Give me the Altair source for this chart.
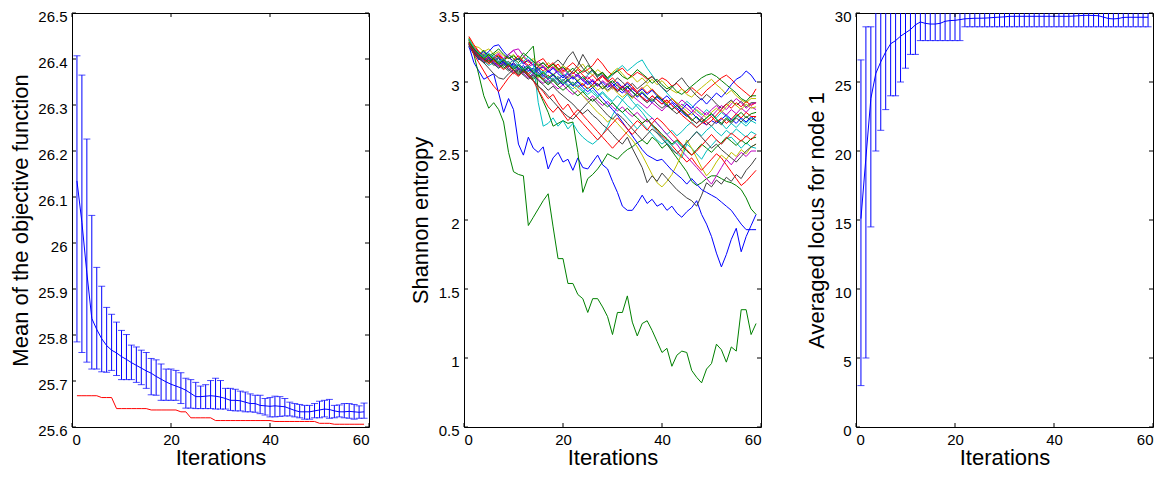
import altair as alt
import pandas as pd

ITER = list(range(1, 60))
X_TICKS = [0, 20, 40, 60]
OBJ_TICKS = [25.6, 25.7, 25.8, 25.9, 26.0, 26.1, 26.2, 26.3, 26.4, 26.5]
ENT_TICKS = [0.5, 1, 1.5, 2, 2.5, 3, 3.5]
LOC_TICKS = [0, 5, 10, 15, 20, 25, 30]

# ---------------- left panel: objective function ----------------
OBJ_MEAN = [26.135, 26.045, 25.935, 25.836, 25.812, 25.792, 25.777, 25.767, 25.761, 25.753,
            25.747, 25.740, 25.734, 25.728, 25.722, 25.717, 25.710, 25.704, 25.698, 25.693,
            25.689, 25.685, 25.680, 25.673, 25.666, 25.666, 25.667, 25.668, 25.667, 25.665,
            25.662, 25.658, 25.658, 25.657, 25.654, 25.651, 25.651, 25.647, 25.646, 25.645,
            25.646, 25.645, 25.644, 25.640, 25.636, 25.633, 25.633, 25.633, 25.635, 25.637,
            25.639, 25.638, 25.635, 25.633, 25.633, 25.634, 25.633, 25.632, 25.633]
OBJ_HI = [26.407, 26.365, 26.226, 26.060, 25.947, 25.906, 25.860, 25.845, 25.828, 25.810,
          25.801, 25.778, 25.774, 25.767, 25.762, 25.749, 25.746, 25.737, 25.726, 25.726,
          25.723, 25.718, 25.706, 25.703, 25.697, 25.689, 25.692, 25.701, 25.706, 25.701,
          25.684, 25.684, 25.682, 25.678, 25.676, 25.672, 25.669, 25.669, 25.662, 25.664,
          25.667, 25.666, 25.662, 25.654, 25.651, 25.649, 25.647, 25.647, 25.651, 25.656,
          25.658, 25.660, 25.647, 25.648, 25.651, 25.651, 25.649, 25.646, 25.652]
OBJ_LO = [25.785, 25.762, 25.741, 25.726, 25.726, 25.720, 25.719, 25.723, 25.712, 25.703,
          25.703, 25.703, 25.697, 25.692, 25.684, 25.670, 25.669, 25.658, 25.658, 25.658,
          25.658, 25.651, 25.641, 25.641, 25.640, 25.640, 25.640, 25.640, 25.639, 25.639,
          25.639, 25.636, 25.635, 25.635, 25.633, 25.633, 25.632, 25.629, 25.626, 25.622,
          25.622, 25.623, 25.624, 25.624, 25.622, 25.620, 25.617, 25.617, 25.620, 25.620,
          25.622, 25.619, 25.620, 25.622, 25.620, 25.619, 25.617, 25.619, 25.619]
OBJ_BEST = [25.668, 25.668, 25.668, 25.668, 25.668, 25.664, 25.664, 25.664, 25.640, 25.640,
            25.640, 25.640, 25.640, 25.640, 25.640, 25.637, 25.637, 25.637, 25.637, 25.637,
            25.637, 25.633, 25.633, 25.620, 25.620, 25.620, 25.620, 25.620, 25.614, 25.614,
            25.614, 25.614, 25.614, 25.614, 25.614, 25.614, 25.614, 25.614, 25.614, 25.614,
            25.612, 25.612, 25.612, 25.612, 25.612, 25.612, 25.612, 25.612, 25.612, 25.608,
            25.608, 25.608, 25.606, 25.606, 25.606, 25.606, 25.606, 25.606, 25.606]

# ---------------- right panel: averaged locus ----------------
LOC_MEAN = [15.1, 19.5, 23.8, 25.62, 26.46, 27.18, 27.77, 28.0, 28.32, 28.56,
            28.8, 29.14, 29.35, 29.25, 29.2, 29.2, 29.25, 29.4, 29.45, 29.47,
            29.52, 29.58, 29.6, 29.62, 29.62, 29.63, 29.65, 29.68, 29.7, 29.72,
            29.76, 29.76, 29.76, 29.76, 29.76, 29.76, 29.76, 29.76, 29.76, 29.76,
            29.76, 29.76, 29.76, 29.78, 29.8, 29.83, 29.83, 29.82, 29.8, 29.7,
            29.6, 29.57, 29.6, 29.68, 29.69, 29.69, 29.69, 29.69, 29.69]
LOC_LO = [3.0, 5.0, 14.5, 20.0, 21.5, 23.0, 24.0, 24.0, 25.0, 26.0,
          27.0, 27.0, 28.0, 28.0, 28.0, 28.0, 28.0, 28.0, 28.0, 28.0,
          28.0, 29.0, 29.0, 29.0, 29.0, 29.0, 29.0, 29.0, 29.0, 29.0,
          29.0, 29.0, 29.0, 29.0, 29.0, 29.0, 29.0, 29.0, 29.0, 29.0,
          29.0, 29.0, 29.0, 29.0, 29.0, 29.0, 29.0, 29.0, 29.0, 29.0,
          29.0, 29.0, 29.0, 29.0, 29.0, 29.0, 29.0, 29.0, 29.0]
LOC_HI = [26.6, 29.0, 29.0] + [31.0] * 56

# ---------------- middle panel: Shannon entropy (one list per run) ----------------
B1 = [3.26, 3.14, 3.08, 3.02, 3.04, 3.06, 2.92, 2.78, 2.88, 2.80,
      2.55, 2.47, 2.60, 2.52, 2.49, 2.53, 2.37, 2.45, 2.49, 2.42,
      2.44, 2.36, 2.45, 2.38, 2.37, 2.42, 2.47, 2.40, 2.37, 2.28,
      2.20, 2.10, 2.07, 2.07, 2.12, 2.18, 2.12, 2.15, 2.10, 2.12,
      2.07, 2.10, 2.05, 2.02, 2.06, 2.09, 2.14, 2.04, 1.97, 1.88,
      1.76, 1.66, 1.75, 1.86, 1.94, 1.77, 1.88, 1.96, 2.04]
B2 = [3.27, 3.23, 3.19, 3.22, 3.18, 3.15, 3.18, 3.14, 3.11, 3.14,
      3.10, 3.07, 3.10, 3.06, 3.09, 3.05, 3.02, 3.05, 3.01, 2.98,
      3.01, 2.97, 3.00, 2.96, 2.93, 2.96, 2.92, 2.88, 2.84, 2.80,
      2.76, 2.71, 2.66, 2.61, 2.56, 2.51, 2.47, 2.45, 2.43, 2.44,
      2.40, 2.36, 2.33, 2.30, 2.26, 2.30, 2.26, 2.22, 2.20, 2.18,
      2.16, 2.13, 2.10, 2.07, 2.02, 1.97, 1.93, 1.93, 1.93]
G1 = [3.32, 3.20, 3.05, 2.90, 2.81, 2.85, 2.80, 2.71, 2.49, 2.35,
      2.33, 2.32, 1.96, 2.02, 2.08, 2.14, 2.19, 1.95, 1.72, 1.72,
      1.54, 1.54, 1.46, 1.43, 1.33, 1.43, 1.43, 1.37, 1.30, 1.17,
      1.33, 1.33, 1.45, 1.26, 1.16, 1.25, 1.27, 1.20, 1.12, 1.04,
      1.07, 0.94, 1.02, 1.05, 1.04, 0.91, 0.86, 0.82, 0.92, 0.96,
      1.10, 1.06, 0.97, 1.08, 1.05, 1.35, 1.35, 1.17, 1.25]
G2 = [3.30, 3.22, 3.18, 3.20, 3.17, 3.20, 3.18, 3.15, 3.20, 3.17,
      3.14, 3.18, 3.22, 3.26, 2.94, 2.86, 2.78, 2.68, 2.70, 2.72,
      2.70, 2.71, 2.49, 2.20, 2.30, 2.33, 2.37, 2.42, 2.48, 2.46,
      2.44, 2.48, 2.51, 2.53, 2.56, 2.58, 2.55, 2.60, 2.57, 2.52,
      2.55, 2.50, 2.45, 2.40, 2.35, 2.28, 2.25, 2.27, 2.30, 2.32,
      2.32, 2.30, 2.28, 2.27, 2.25, 2.22, 2.16, 2.08, 2.04]
U1 = [3.30, 3.25, 3.22, 3.18, 3.20, 3.17, 3.19, 3.16, 3.18, 3.15,
      3.17, 3.14, 3.16, 3.12, 3.15, 3.17, 3.12, 3.10, 3.13, 3.08,
      3.11, 3.14, 3.10, 3.07, 3.09, 3.12, 3.17, 3.13, 3.08, 3.05,
      3.08, 3.10, 3.06, 3.04, 3.07, 3.05, 3.02, 3.04, 3.00, 3.03,
      3.01, 2.97, 2.99, 2.95, 2.92, 2.96, 2.93, 2.90, 2.94, 2.97,
      3.00, 3.03, 3.05, 3.02, 2.98, 2.95, 2.92, 2.89, 2.95]
U2 = [3.28, 3.24, 3.20, 3.23, 3.19, 3.21, 3.24, 3.20, 3.17, 3.19,
      3.16, 3.21, 3.18, 3.15, 3.12, 3.14, 3.10, 3.13, 3.09, 3.11,
      3.07, 3.10, 3.06, 3.08, 3.12, 3.09, 3.05, 3.07, 3.03, 3.06,
      3.08, 3.04, 3.02, 3.05, 3.09, 3.06, 3.03, 2.99, 3.02, 2.98,
      2.95, 2.97, 2.93, 2.91, 2.94, 2.97, 3.00, 3.03, 3.05, 3.06,
      3.04, 3.01, 2.98, 2.95, 2.92, 2.88, 2.86, 2.90, 2.90]
U3 = [3.32, 3.26, 3.25, 3.22, 3.24, 3.20, 3.22, 3.19, 3.17, 3.20,
      3.16, 3.18, 3.14, 3.17, 3.13, 3.10, 3.14, 3.11, 3.08, 3.12,
      3.09, 3.06, 3.10, 3.13, 3.08, 3.05, 3.09, 3.06, 3.03, 3.07,
      3.10, 3.06, 3.02, 3.04, 3.00, 3.03, 2.99, 3.02, 2.98, 3.01,
      2.97, 2.94, 2.92, 2.95, 2.91, 2.89, 2.93, 2.96, 2.99, 3.02,
      2.98, 2.95, 2.91, 2.94, 2.90, 2.87, 2.85, 2.88, 2.88]
U4 = [3.29, 3.22, 3.19, 3.16, 3.18, 3.14, 3.17, 3.13, 3.15, 3.11,
      3.13, 3.10, 3.12, 3.08, 3.11, 3.14, 3.10, 3.13, 3.16, 3.12,
      3.18, 3.22, 3.15, 3.10, 3.06, 3.09, 3.04, 3.07, 3.02, 2.99,
      3.03, 3.00, 2.96, 2.99, 2.95, 2.98, 3.01, 3.04, 3.00, 2.96,
      2.93, 2.96, 3.00, 3.03, 2.98, 2.94, 2.90, 2.87, 2.91, 2.88,
      2.84, 2.81, 2.84, 2.87, 2.83, 2.86, 2.82, 2.85, 2.85]
U5 = [3.27, 3.21, 3.17, 3.19, 3.15, 3.18, 3.14, 3.16, 3.20, 3.23,
      3.18, 3.14, 3.11, 3.13, 3.09, 3.12, 3.08, 3.05, 3.09, 3.06,
      3.03, 3.07, 3.04, 3.01, 3.04, 3.00, 2.97, 3.01, 2.98, 2.95,
      2.98, 2.94, 2.91, 2.95, 2.92, 2.89, 2.86, 2.90, 2.87, 2.84,
      2.87, 2.83, 2.80, 2.84, 2.81, 2.78, 2.82, 2.79, 2.76, 2.80,
      2.83, 2.79, 2.76, 2.80, 2.77, 2.81, 2.78, 2.82, 2.80]
U6 = [3.26, 3.20, 3.18, 3.15, 3.17, 3.13, 3.15, 3.12, 3.14, 3.10,
      3.12, 3.08, 3.11, 3.07, 3.10, 3.06, 3.09, 3.05, 3.08, 3.04,
      3.07, 3.03, 3.06, 3.02, 3.05, 3.08, 3.04, 3.06, 3.02, 3.05,
      3.09, 3.12, 3.08, 3.11, 3.14, 3.16, 3.10, 3.05, 3.00, 2.96,
      2.92, 2.88, 2.85, 2.82, 2.86, 2.83, 2.79, 2.76, 2.80, 2.77,
      2.74, 2.78, 2.75, 2.72, 2.76, 2.73, 2.70, 2.74, 2.72]
U7 = [3.25, 3.21, 3.16, 3.19, 3.22, 3.26, 3.27, 3.22, 3.18, 3.15,
      3.17, 3.13, 3.16, 3.12, 3.09, 3.11, 3.07, 3.10, 3.06, 3.03,
      3.06, 3.02, 3.05, 3.01, 2.98, 3.01, 2.97, 3.00, 2.96, 2.99,
      2.95, 2.92, 2.96, 2.93, 2.89, 2.92, 2.88, 2.85, 2.89, 2.86,
      2.82, 2.85, 2.81, 2.78, 2.75, 2.78, 2.74, 2.71, 2.69, 2.72,
      2.70, 2.73, 2.76, 2.73, 2.70, 2.74, 2.71, 2.75, 2.72]
U8 = [3.28, 3.23, 3.19, 3.16, 3.18, 3.14, 3.12, 3.15, 3.11, 3.13,
      3.09, 3.12, 3.08, 3.10, 3.07, 3.04, 3.08, 3.05, 3.02, 3.05,
      3.01, 3.04, 3.00, 2.97, 3.01, 2.98, 3.02, 3.05, 3.01, 2.97,
      3.00, 2.96, 2.99, 2.95, 2.92, 2.95, 2.91, 2.94, 2.90, 2.87,
      2.90, 2.86, 2.83, 2.80, 2.84, 2.81, 2.85, 2.88, 2.84, 2.88,
      2.92, 2.89, 2.93, 2.98, 3.02, 3.04, 3.08, 3.05, 3.00]
U9 = [3.31, 3.24, 3.21, 3.17, 3.20, 3.16, 3.13, 3.16, 3.12, 3.09,
      3.12, 3.08, 3.11, 3.07, 3.04, 3.07, 3.03, 3.06, 3.02, 2.99,
      3.02, 2.98, 3.01, 3.04, 3.00, 2.96, 2.99, 2.95, 2.98, 3.01,
      2.97, 2.94, 2.97, 2.93, 2.90, 2.93, 2.89, 2.86, 2.90, 2.87,
      2.83, 2.80, 2.83, 2.79, 2.76, 2.72, 2.75, 2.71, 2.74, 2.77,
      2.73, 2.70, 2.74, 2.71, 2.75, 2.78, 2.74, 2.77, 2.78]
U10 = [3.29, 3.25, 3.20, 3.17, 3.14, 3.17, 3.20, 3.16, 3.13, 3.16,
       3.19, 3.15, 3.12, 3.15, 3.11, 3.08, 3.11, 3.14, 3.10, 3.07,
       3.10, 3.06, 3.09, 3.05, 3.02, 3.05, 3.01, 3.04, 3.00, 3.03,
       2.99, 2.96, 3.00, 2.97, 2.93, 2.96, 2.92, 2.95, 2.91, 2.88,
       2.85, 2.88, 2.84, 2.80, 2.77, 2.73, 2.70, 2.73, 2.69, 2.72,
       2.76, 2.80, 2.84, 2.81, 2.85, 2.82, 2.86, 2.83, 2.85]
U11 = [3.27, 3.23, 3.19, 3.15, 3.12, 3.14, 3.10, 3.13, 3.09, 3.12,
       3.08, 3.05, 3.08, 3.04, 3.07, 3.03, 3.00, 3.03, 2.99, 3.02,
       2.98, 2.95, 2.98, 2.94, 2.91, 2.94, 2.90, 2.93, 2.89, 2.86,
       2.90, 2.87, 2.83, 2.80, 2.84, 2.81, 2.77, 2.74, 2.70, 2.66,
       2.62, 2.65, 2.61, 2.64, 2.68, 2.71, 2.67, 2.70, 2.74, 2.77,
       2.73, 2.70, 2.66, 2.70, 2.67, 2.71, 2.68, 2.72, 2.70]
U12 = [3.26, 3.22, 3.18, 3.21, 3.17, 3.14, 3.18, 3.15, 3.11, 3.14,
       3.10, 3.07, 3.10, 3.06, 3.03, 3.06, 3.10, 3.13, 3.09, 3.05,
       3.02, 3.05, 3.01, 2.98, 2.95, 2.98, 2.94, 2.97, 2.93, 2.96,
       2.92, 2.89, 2.92, 2.88, 2.92, 2.95, 2.98, 2.94, 2.91, 2.87,
       2.84, 2.88, 2.85, 2.82, 2.79, 2.76, 2.80, 2.77, 2.74, 2.78,
       2.81, 2.78, 2.82, 2.86, 2.83, 2.80, 2.84, 2.81, 2.82]
U13 = [3.30, 3.24, 3.21, 3.18, 3.15, 3.18, 3.21, 3.17, 3.20, 3.23,
       3.24, 3.19, 3.15, 3.12, 3.15, 3.11, 3.08, 3.11, 3.07, 3.10,
       3.06, 3.03, 3.06, 3.02, 2.99, 3.02, 2.98, 2.95, 2.99, 2.96,
       2.93, 2.97, 2.94, 2.90, 2.87, 2.84, 2.81, 2.85, 2.82, 2.79,
       2.83, 2.80, 2.83, 2.87, 2.84, 2.80, 2.77, 2.74, 2.78, 2.75,
       2.79, 2.83, 2.80, 2.84, 2.88, 2.85, 2.81, 2.84, 2.85]
U14 = [3.27, 3.20, 3.17, 3.14, 3.16, 3.12, 3.15, 3.11, 3.08, 3.11,
       3.07, 3.10, 3.06, 3.03, 3.06, 3.02, 2.99, 3.02, 2.98, 3.01,
       3.04, 3.08, 3.12, 3.20, 3.14, 3.08, 3.03, 2.98, 2.94, 2.97,
       2.93, 2.96, 2.92, 2.89, 2.92, 2.88, 2.85, 2.88, 2.84, 2.81,
       2.84, 2.80, 2.77, 2.80, 2.76, 2.73, 2.70, 2.74, 2.71, 2.68,
       2.72, 2.69, 2.73, 2.70, 2.74, 2.71, 2.75, 2.72, 2.75]
U15 = [3.33, 3.27, 3.22, 3.19, 3.15, 3.18, 3.14, 3.17, 3.13, 3.10,
       3.13, 3.09, 3.06, 3.09, 3.05, 3.02, 3.05, 3.01, 3.04, 3.00,
       2.97, 3.00, 2.96, 2.99, 2.95, 2.98, 3.02, 3.05, 3.01, 2.97,
       2.94, 2.97, 2.93, 2.96, 2.92, 2.89, 2.86, 2.90, 2.87, 2.84,
       2.87, 2.83, 2.80, 2.76, 2.73, 2.70, 2.67, 2.70, 2.72, 2.75,
       2.71, 2.74, 2.70, 2.73, 2.77, 2.74, 2.78, 2.75, 2.75]
M1 = [3.28, 3.22, 3.18, 3.20, 3.16, 3.19, 3.15, 3.17, 3.13, 3.16,
      3.12, 3.15, 3.18, 3.14, 2.85, 2.68, 2.70, 2.74, 2.68, 2.72,
      2.66, 2.70, 2.64, 2.60, 2.57, 2.55, 2.58, 2.62, 2.68, 2.76,
      2.82, 2.87, 2.91, 2.86, 2.82, 2.78, 2.73, 2.68, 2.64, 2.60,
      2.56, 2.52, 2.48, 2.45, 2.55, 2.52, 2.48, 2.44, 2.50, 2.54,
      2.58, 2.55, 2.59, 2.60, 2.56, 2.52, 2.56, 2.53, 2.52]
M2 = [3.30, 3.24, 3.20, 3.17, 3.19, 3.15, 3.18, 3.14, 3.11, 3.14,
      3.10, 3.07, 3.10, 3.06, 3.09, 3.05, 3.02, 3.05, 3.01, 2.98,
      3.01, 2.97, 2.94, 2.90, 2.86, 2.82, 2.78, 2.75, 2.71, 2.74,
      2.70, 2.66, 2.62, 2.58, 2.53, 2.47, 2.40, 2.33, 2.27, 2.24,
      2.28, 2.33, 2.40, 2.48, 2.58, 2.52, 2.45, 2.38, 2.32, 2.36,
      2.42, 2.47, 2.44, 2.49, 2.46, 2.51, 2.48, 2.53, 2.55]
M3 = [3.27, 3.21, 3.17, 3.14, 3.17, 3.13, 3.10, 3.13, 3.09, 3.06,
      3.09, 3.05, 3.02, 3.05, 3.01, 2.98, 2.94, 2.97, 2.93, 2.90,
      2.87, 2.84, 2.80, 2.77, 2.80, 2.76, 2.73, 2.69, 2.66, 2.62,
      2.58, 2.55, 2.60, 2.52, 2.45, 2.38, 2.27, 2.32, 2.28, 2.34,
      2.30, 2.26, 2.22, 2.19, 2.16, 2.14, 2.10, 2.18, 2.27, 2.24,
      2.29, 2.26, 2.31, 2.28, 2.33, 2.30, 2.36, 2.40, 2.45]
M4 = [3.29, 3.23, 3.19, 3.16, 3.13, 3.16, 3.12, 3.09, 3.12, 3.08,
      3.05, 3.08, 3.04, 3.01, 2.97, 2.93, 2.88, 2.91, 2.85, 2.80,
      2.84, 2.78, 2.74, 2.70, 2.66, 2.62, 2.58, 2.62, 2.66, 2.70,
      2.74, 2.70, 2.66, 2.62, 2.66, 2.70, 2.73, 2.69, 2.65, 2.61,
      2.58, 2.54, 2.50, 2.46, 2.42, 2.45, 2.40, 2.36, 2.40, 2.44,
      2.48, 2.45, 2.40, 2.35, 2.30, 2.25, 2.28, 2.32, 2.36]
M5 = [3.26, 3.22, 3.18, 3.15, 3.18, 3.14, 3.11, 3.14, 3.10, 3.07,
      3.10, 3.06, 3.03, 3.06, 3.02, 2.99, 3.02, 2.98, 2.95, 2.98,
      2.94, 2.91, 2.94, 2.90, 2.87, 2.90, 2.86, 2.83, 2.86, 2.82,
      2.79, 2.82, 2.78, 2.75, 2.78, 2.74, 2.71, 2.74, 2.70, 2.66,
      2.62, 2.58, 2.55, 2.50, 2.46, 2.42, 2.38, 2.34, 2.30, 2.26,
      2.32, 2.38, 2.44, 2.40, 2.45, 2.49, 2.46, 2.50, 2.50]
M6 = [3.28, 3.20, 3.14, 3.08, 3.02, 2.97, 2.93, 2.98, 3.03, 3.07,
      3.04, 3.08, 3.05, 3.01, 2.94, 2.88, 2.82, 2.78, 2.82, 2.77,
      2.72, 2.76, 2.80, 2.76, 2.72, 2.68, 2.64, 2.60, 2.56, 2.52,
      2.56, 2.60, 2.64, 2.68, 2.72, 2.69, 2.65, 2.70, 2.74, 2.71,
      2.67, 2.63, 2.59, 2.55, 2.51, 2.47, 2.50, 2.54, 2.58, 2.62,
      2.58, 2.55, 2.59, 2.63, 2.60, 2.57, 2.61, 2.58, 2.62]
M7 = [3.29, 3.24, 3.20, 3.17, 3.14, 3.17, 3.13, 3.10, 3.13, 3.09,
      3.06, 3.09, 3.05, 3.02, 3.05, 3.01, 2.98, 3.01, 2.97, 2.94,
      2.97, 2.93, 2.90, 2.93, 2.89, 2.86, 2.89, 2.85, 2.82, 2.85,
      2.81, 2.78, 2.81, 2.77, 2.74, 2.70, 2.73, 2.69, 2.66, 2.62,
      2.59, 2.55, 2.58, 2.54, 2.50, 2.47, 2.51, 2.55, 2.52, 2.49,
      2.53, 2.56, 2.60, 2.57, 2.54, 2.58, 2.55, 2.59, 2.60]
M8 = [3.31, 3.25, 3.21, 3.18, 3.21, 3.17, 3.14, 3.17, 3.13, 3.10,
      3.13, 3.09, 3.12, 3.08, 3.05, 3.08, 3.04, 3.01, 3.04, 3.00,
      2.97, 3.00, 2.96, 2.93, 2.96, 2.92, 2.89, 2.92, 2.88, 2.85,
      2.81, 2.78, 2.74, 2.70, 2.66, 2.70, 2.66, 2.62, 2.58, 2.55,
      2.58, 2.54, 2.57, 2.53, 2.56, 2.60, 2.64, 2.61, 2.65, 2.68,
      2.64, 2.61, 2.65, 2.62, 2.66, 2.63, 2.60, 2.64, 2.62]
M9 = [3.27, 3.22, 3.18, 3.14, 3.10, 3.06, 3.03, 3.02, 3.06, 3.09,
      3.05, 3.08, 3.04, 3.01, 2.97, 2.94, 2.90, 2.86, 2.82, 2.78,
      2.75, 2.73, 2.77, 2.81, 2.85, 2.88, 2.84, 2.80, 2.76, 2.73,
      2.77, 2.74, 2.70, 2.66, 2.62, 2.58, 2.62, 2.66, 2.63, 2.59,
      2.55, 2.51, 2.48, 2.52, 2.56, 2.60, 2.64, 2.60, 2.56, 2.52,
      2.55, 2.51, 2.48, 2.45, 2.42, 2.46, 2.50, 2.53, 2.55]

C_B, C_G, C_R, C_C, C_M, C_Y, C_K = "#0000ff", "#008000", "#ff0000", "#00bfbf", "#bf00bf", "#bfbf00", "#404040"
RUNS = [
    ("B1", C_B, B1), ("G1", C_G, G1), ("U1", C_R, U1), ("U6", C_C, U6), ("U5", C_M, U5),
    ("U3", C_Y, U3), ("U4", C_K, U4), ("U7", C_B, U7), ("G2", C_G, G2), ("U10", C_R, U10),
    ("U11", C_C, U11), ("U13", C_M, U13), ("U12", C_Y, U12), ("U14", C_K, U14), ("U8", C_B, U8),
    ("U2", C_G, U2), ("U15", C_R, U15), ("M1", C_C, M1), ("M5", C_M, M5), ("M2", C_Y, M2),
    ("M3", C_K, M3), ("B2", C_B, B2), ("U9", C_G, U9), ("M4", C_R, M4), ("M8", C_C, M8),
    ("M7", C_G, M7), ("M6", C_R, M6), ("M9", C_K, M9),
]

W, H = 297, 414
TL = 4
FONT = "Liberation Sans"
BLUE = "#0000ff"

XS = alt.Scale(domain=[0, 60], nice=False, zero=False)


def inner_ticks(yscale, yticks):
    xt = alt.Chart(pd.DataFrame({"xt": X_TICKS}))
    yt = alt.Chart(pd.DataFrame({"yt": yticks}))
    xx = alt.X("xt:Q", scale=XS)
    yy = alt.Y("yt:Q", scale=yscale)
    rule = dict(color="black", strokeWidth=1)
    return [
        xt.mark_rule(**rule).encode(x=xx, y=alt.value(H), y2=alt.value(H - TL)),
        xt.mark_rule(**rule).encode(x=xx, y=alt.value(0), y2=alt.value(TL)),
        yt.mark_rule(**rule).encode(y=yy, x=alt.value(0), x2=alt.value(TL)),
        yt.mark_rule(**rule).encode(y=yy, x=alt.value(W - TL), x2=alt.value(W)),
    ]


def x_main():
    return alt.X("it:Q", scale=XS, axis=alt.Axis(values=X_TICKS, title="Iterations", format="d"))


def x_plain():
    return alt.X("it:Q", scale=XS)


def errbar_panel(df, yscale, yticks, ytitle, extra=None):
    base = alt.Chart(df)
    mean = base.mark_line(color=BLUE, strokeWidth=1, clip=True).encode(
        x=x_main(),
        y=alt.Y("mean:Q", scale=yscale,
                axis=alt.Axis(values=yticks, title=ytitle, format="~g")))
    bars = base.mark_rule(color=BLUE, strokeWidth=1, clip=True).encode(
        x=x_plain(), y=alt.Y("lo:Q", scale=yscale), y2="hi:Q")
    cap_lo = base.mark_tick(color=BLUE, orient="horizontal", size=7, thickness=1, clip=True).encode(
        x=x_plain(), y=alt.Y("lo:Q", scale=yscale))
    cap_hi = base.mark_tick(color=BLUE, orient="horizontal", size=7, thickness=1, clip=True).encode(
        x=x_plain(), y=alt.Y("hi:Q", scale=yscale))
    layers = [mean, bars, cap_lo, cap_hi]
    if extra is not None:
        layers.append(extra)
    layers += inner_ticks(yscale, yticks)
    return alt.layer(*layers).properties(width=W, height=H)


# left
obj_df = pd.DataFrame({"it": ITER, "mean": OBJ_MEAN, "lo": OBJ_LO, "hi": OBJ_HI, "best": OBJ_BEST})
ys_obj = alt.Scale(domain=[25.6, 26.5], nice=False, zero=False)
best_line = alt.Chart(obj_df).mark_line(color="#ff0000", strokeWidth=1).encode(
    x=x_plain(), y=alt.Y("best:Q", scale=ys_obj))
left = errbar_panel(obj_df, ys_obj, OBJ_TICKS, "Mean of the objective function", extra=best_line)

# middle
rows = []
for name, col, vals in RUNS:
    for i, v in zip(ITER, vals):
        rows.append({"it": i, "run": name, "H": v})
ent_df = pd.DataFrame(rows)
ys_ent = alt.Scale(domain=[0.5, 3.5], nice=False, zero=False)
ent_lines = alt.Chart(ent_df).mark_line(strokeWidth=1).encode(
    x=x_main(),
    y=alt.Y("H:Q", scale=ys_ent, axis=alt.Axis(values=ENT_TICKS, title="Shannon entropy", format="~g")),
    color=alt.Color("run:N", scale=alt.Scale(domain=[r[0] for r in RUNS], range=[r[1] for r in RUNS]),
                    legend=None),
    order=alt.Order("it:Q"),
)
mid = alt.layer(ent_lines, *inner_ticks(ys_ent, ENT_TICKS)).properties(width=W, height=H)

# right
loc_df = pd.DataFrame({"it": ITER, "mean": LOC_MEAN, "lo": LOC_LO, "hi": LOC_HI})
ys_loc = alt.Scale(domain=[0, 30], nice=False, zero=False)
right = errbar_panel(loc_df, ys_loc, LOC_TICKS, "Averaged locus for node 1")

chart = alt.hconcat(left, mid, right, spacing=95, bounds="flush").properties(
    padding={"left": 0, "right": 0, "top": 0, "bottom": 0}
).configure_view(
    stroke="black", strokeWidth=1
).configure_axis(
    labelFont=FONT, labelFontSize=15, labelColor="black",
    titleFont=FONT, titleFontSize=22, titleFontWeight="normal", titleColor="black",
    domain=False, ticks=False, tickSize=0, grid=False,
).configure_axisY(
    labelPadding=5, titlePadding=5.5, labelOffset=3
).configure_axisX(
    labelPadding=5, titlePadding=0
)

chart.save("out.html", embed_options={"renderer": "svg", "actions": False})
